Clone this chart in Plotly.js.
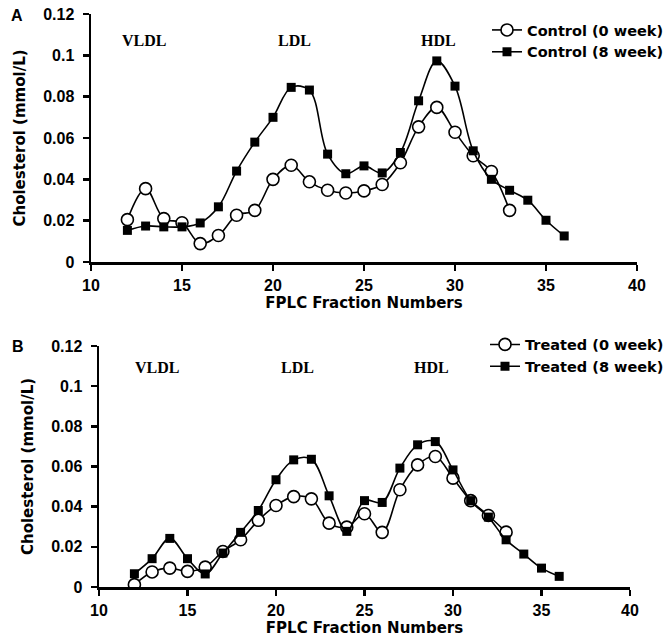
<!DOCTYPE html>
<html><head><meta charset="utf-8">
<script src="https://cdn.plot.ly/plotly-3.0.1.min.js"></script>
<style>html,body{margin:0;padding:0;background:#fff}#c{width:669px;height:637px}</style>
</head><body><div id="c"></div>
<script>
const fracA0 = [12,13,14,15,16,17,18,19,20,21,22,23,24,25,26,27,28,29,30,31,32,33];
const controlWeek0 = [0.0205,0.0355,0.021,0.019,0.0089,0.0128,0.0226,0.025,0.040,0.0468,0.0388,0.0347,0.0334,0.0344,0.0375,0.048,0.0654,0.0748,0.0628,0.0514,0.0438,0.025];
const fracA8 = [12,13,14,15,16,17,18,19,20,21,22,23,24,25,26,27,28,29,30,31,32,33,34,35,36];
const controlWeek8 = [0.0153,0.0174,0.017,0.017,0.0189,0.0267,0.044,0.058,0.070,0.0845,0.0832,0.0522,0.0427,0.0465,0.0431,0.053,0.078,0.0973,0.0851,0.0538,0.040,0.0347,0.0299,0.0202,0.0126];
const fracB0 = [12,13,14,15,16,17,18,19,20,21,22,23,24,25,26,27,28,29,30,31,32,33];
const treatedWeek0 = [0.0012,0.0075,0.0094,0.0078,0.0099,0.0177,0.0235,0.0332,0.0406,0.045,0.0439,0.0318,0.0298,0.0365,0.0272,0.0484,0.0608,0.065,0.0542,0.043,0.0356,0.0273];
const fracB8 = [12,13,14,15,16,17,18,19,20,21,22,23,24,25,26,27,28,29,30,31,32,33,34,35,36];
const treatedWeek8 = [0.0066,0.0141,0.0242,0.0141,0.0065,0.0169,0.0272,0.0381,0.0534,0.0633,0.0636,0.0454,0.0277,0.043,0.0421,0.0592,0.0708,0.0724,0.0583,0.043,0.0348,0.0235,0.0164,0.0094,0.0053];
const seriesNames = ["Control (0 week)","Control (8 week)","Treated (0 week)","Treated (8 week)"];
const regionLabels = ["VLDL","LDL","HDL"];
const regionXA = [12.9,21.2,29.1];
const regionXB = [13.3,21.2,28.8];
const panelLabels = ["A","B"];
const xTicks = [10,15,20,25,30,35,40];
const xTickText = ["10","15","20","25","30","35","40"];
const yTicks = [0,0.02,0.04,0.06,0.08,0.1,0.12];
const yTickText = ["0","0.02","0.04","0.06","0.08","0.1","0.12"];

const F = "Liberation Sans, Arial, sans-serif";
const FW = "DejaVu Sans, Liberation Sans, sans-serif";
const lineStyle = {color:"#000", width:1.6, shape:"spline", smoothing:1};
const openFill = {symbol:"circle", size:12, color:"#fff", line:{width:1.6,color:"#000"}};
const sqM = {symbol:"square", size:9, color:"#000"};

const traces = [
 {x:fracA0, y:controlWeek0, name:seriesNames[0], mode:"lines+markers", line:lineStyle, marker:openFill, xaxis:"x", yaxis:"y", legend:"legend"},
 {x:fracA8, y:controlWeek8, name:seriesNames[1], mode:"lines+markers", line:lineStyle, marker:sqM, xaxis:"x", yaxis:"y", legend:"legend"},
 {x:fracB0, y:treatedWeek0, name:seriesNames[2], mode:"lines+markers", line:lineStyle, marker:openFill, xaxis:"x2", yaxis:"y2", legend:"legend2"},
 {x:fracB8, y:treatedWeek8, name:seriesNames[3], mode:"lines+markers", line:lineStyle, marker:sqM, xaxis:"x2", yaxis:"y2", legend:"legend2"}
];

const bold = a => a.map(s => "<b>"+s+"</b>");

function xax(domain, anchor){
 return {domain:domain, anchor:anchor, range:[10,40], tickmode:"array", tickvals:xTicks, ticktext:bold(xTickText), ticks:"outside", ticklen:6, tickwidth:2.5, tickcolor:"#000",
  showline:true, linewidth:2.5, linecolor:"#000", showgrid:false, zeroline:false, ticklabelstandoff:1,
  tickfont:{family:F, size:16, weight:"bold", color:"#000"},
  title:{text:"FPLC Fraction Numbers", font:{family:FW, size:15, weight:"bold", color:"#000"}, standoff:0}};
}
function yax(domain, anchor){
 return {domain:domain, anchor:anchor, range:[0,0.12], tickmode:"array", tickvals:yTicks, ticktext:bold(yTickText), ticks:"outside", ticklen:6, tickwidth:2.5, tickcolor:"#000",
  showline:true, linewidth:2.5, linecolor:"#000", showgrid:false, zeroline:false, ticklabelstandoff:5,
  tickfont:{family:F, size:16, weight:"bold", color:"#000"},
  title:{text:"Cholesterol (mmol/L)", font:{family:FW, size:15, weight:"bold", color:"#000"}, standoff:14}};
}

const ann = [];
const serif = {family:"Liberation Serif, Times New Roman, serif", size:16, color:"#000"};
regionLabels.forEach((t,i)=>{
 ann.push({text:"<b>"+t+"</b>", x:regionXA[i], y:0.1074, xref:"x", yref:"y", xanchor:"center", yanchor:"middle", showarrow:false, font:serif});
 ann.push({text:"<b>"+t+"</b>", x:regionXB[i], y:0.1095, xref:"x2", yref:"y2", xanchor:"center", yanchor:"middle", showarrow:false, font:serif});
});
ann.push({text:"<b>"+panelLabels[0]+"</b>", x:17/669, y:1-15.5/637, xref:"paper", yref:"paper", xanchor:"center", yanchor:"middle", showarrow:false, font:{family:F,size:16,color:"#000"}});
ann.push({text:"<b>"+panelLabels[1]+"</b>", x:18/669, y:1-346/637, xref:"paper", yref:"paper", xanchor:"center", yanchor:"middle", showarrow:false, font:{family:F,size:16,color:"#000"}});

const legFont = {family:FW, size:14.5, weight:"bold", color:"#000"};
const layout = {
 width:669, height:637, margin:{l:0,r:0,t:0,b:0}, paper_bgcolor:"#fff", plot_bgcolor:"#fff",
 xaxis: xax([91/669, 637/669], "y"),
 yaxis: yax([1-262/637, 1-14/637], "x"),
 xaxis2: xax([99/669, 630/669], "y2"),
 yaxis2: yax([1-587/637, 1-346/637], "x2"),
 annotations: ann,
 legend:{x:1, xanchor:"right", y:1-14/637, yanchor:"top", bgcolor:"rgba(0,0,0,0)", font:legFont, tracegroupgap:0, itemwidth:30},
 legend2:{x:1, xanchor:"right", y:1-328.5/637, yanchor:"top", bgcolor:"rgba(0,0,0,0)", font:legFont, tracegroupgap:0, itemwidth:30},
 showlegend:true
};
Plotly.newPlot("c", traces, layout, {displayModeBar:false, staticPlot:true});
</script></body></html>
